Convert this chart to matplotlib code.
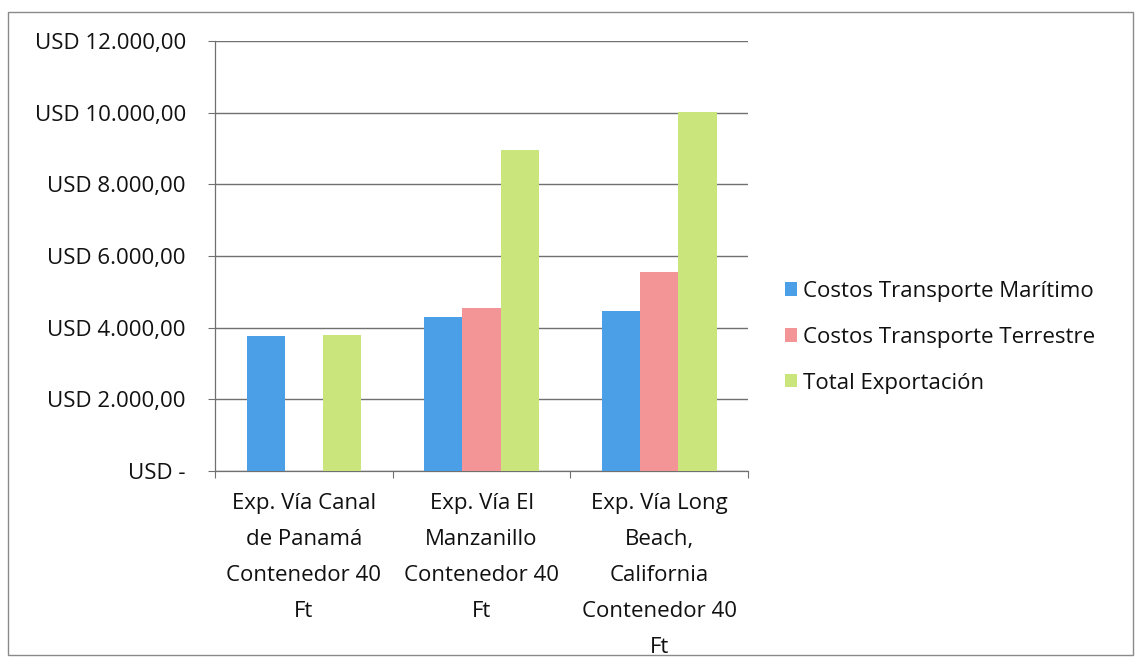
import matplotlib.pyplot as plt
import numpy as np
from matplotlib.patches import Rectangle

plt.rcParams["font.family"] = ["Open Sans", "DejaVu Sans"]

# Export routes and cost breakdown (USD)
categories = [
    "Exp. Vía Canal\nde Panamá\nContenedor 40\nFt",
    "Exp. Vía El\nManzanillo\nContenedor 40\nFt",
    "Exp. Vía Long\nBeach,\nCalifornia\nContenedor 40\nFt",
]
series_names = [
    "Costos Transporte Marítimo",
    "Costos Transporte Terrestre",
    "Total Exportación",
]
maritimo  = [3780, 4310, 4465]
terrestre = [0, 4560, 5563]
total     = [3790, 8950, 10028]

y_ticks  = [0, 2000, 4000, 6000, 8000, 10000, 12000]
y_labels = ["USD -", "USD 2.000,00", "USD 4.000,00", "USD 6.000,00",
            "USD 8.000,00", "USD 10.000,00", "USD 12.000,00"]

COLORS = ["#4a9fe6", "#f39596", "#c9e57c"]
GRID   = "#707070"
TEXT   = "#111111"

fig = plt.figure(figsize=(11.35, 6.60), dpi=100)
ax = fig.add_axes([0.1894, 0.2864, 0.4697, 0.6515])

x = np.arange(len(categories)) + 0.5
width = 0.215
for i, (vals, name) in enumerate(zip([maritimo, terrestre, total], series_names)):
    ax.bar(x + (i - 1) * width, vals, width, color=COLORS[i], label=name,
           zorder=3, linewidth=0)

ax.set_xlim(0, len(categories))
ax.set_ylim(0, 12000)

# y axis: currency labels, outward ticks, horizontal gridlines
ax.set_yticks(y_ticks)
ax.set_yticklabels(y_labels)
ax.yaxis.grid(True, color=GRID, linewidth=1.0, zorder=0)
ax.tick_params(axis="y", direction="out", length=5, width=0.8, color=GRID,
               pad=16, labelsize=16, labelcolor=TEXT)

# x axis: ticks at category boundaries, labels at centres
ax.set_xticks(np.arange(len(categories) + 1))
ax.set_xticklabels([])
ax.set_xticks(x, minor=True)
ax.set_xticklabels(categories, minor=True, linespacing=1.93)
ax.tick_params(axis="x", which="major", direction="out", length=5,
               width=0.8, color=GRID)
ax.tick_params(axis="x", which="minor", length=0, pad=16, labelsize=16,
               labelcolor=TEXT)

for side in ("top", "right"):
    ax.spines[side].set_visible(False)
for side in ("left", "bottom"):
    ax.spines[side].set_color(GRID)
    ax.spines[side].set_linewidth(0.9)

leg = fig.legend(loc="center left", bbox_to_anchor=(0.674, 0.489),
                 frameon=False, fontsize=16, handlelength=0.55,
                 handleheight=0.55, handletextpad=0.25, labelspacing=1.12)
for t in leg.get_texts():
    t.set_color(TEXT)

# chart frame
fig.patches.append(Rectangle((0.007, 0.007), 0.991, 0.975,
                             transform=fig.transFigure, fill=False,
                             edgecolor="#8a8a8a", linewidth=1.0))

fig.savefig("out.png", dpi=100, facecolor="white")
